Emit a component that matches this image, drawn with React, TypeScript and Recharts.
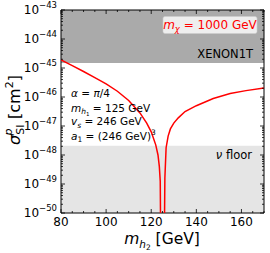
import React from "react";
import { LineChart, Line, XAxis, YAxis, ReferenceArea } from "recharts";

// m_h2 [GeV] and sigma_SI^p [cm^2] (resonance dip at m_h2 ~ 125 GeV)
const massH2 = [
  80, 85, 90, 95, 100, 105, 110, 115, 118, 120, 122, 123, 123.6, 124.0, 124.2,
  125.8, 126.05, 126.6, 127.5, 128.5, 130, 132, 135, 140, 147.5, 155, 162, 170,
];
const sigmaSI = [
  1.905e-45, 1.2e-45, 7.59e-46, 4.68e-46, 2.82e-46, 1.58e-46, 7.59e-47, 2.82e-47,
  1.26e-47, 6.31e-48, 2.24e-48, 1.0e-48, 3.98e-49, 1.26e-49, 1e-51,
  1e-51, 1.58e-49, 1.78e-48, 4.47e-48, 7.94e-48, 1.26e-47, 1.91e-47, 3.16e-47,
  5.01e-47, 8.91e-47, 1.32e-46, 1.66e-46, 2.04e-46,
];

const xTicksMajor = [80, 100, 120, 140, 160];
const xTicksMinor = [85, 90, 95, 105, 110, 115, 125, 130, 135, 145, 150, 155, 165, 170];
const yTicksMajor = [1e-50, 1e-49, 1e-48, 1e-47, 1e-46, 1e-45, 1e-44, 1e-43];
const yExponents = [-50, -49, -48, -47, -46, -45, -44, -43];

const xenonLimit = 1.48e-45;
const neutrinoFloor = 2.1e-48;

const data = massH2.map((m, i) => ({ m, sigma: sigmaSI[i] }));

const yTicksAll = yTicksMajor.flatMap((t, i) =>
  i < yTicksMajor.length - 1 ? [t, 2 * t, 3 * t, 4 * t, 5 * t, 6 * t, 7 * t, 8 * t, 9 * t] : [t]
);

const W = 270;
const H = 253;
const LEFT = 61;
const TOP = 10;
const RIGHT = 6;
const BOTTOM = 40;
const PLOT_W = W - LEFT - RIGHT;
const PLOT_H = H - TOP - BOTTOM;
const FONT = "DejaVu Sans";

const YTick = (props: any) => {
  const { x, y, payload } = props;
  const idx = yTicksMajor.indexOf(payload.value);
  const major = idx >= 0;
  const len = major ? 4 : 2;
  return (
    <g>
      <line x1={x} x2={x + len} y1={y} y2={y} stroke="#000" strokeWidth={0.8} />
      <line x1={x + PLOT_W} x2={x + PLOT_W - len} y1={y} y2={y} stroke="#000" strokeWidth={0.8} />
      {major && (
        <text x={x - 4} y={y + 4} textAnchor="end" fontSize={12} fontFamily={FONT} fill="#000">
          10
          <tspan dy={-6} fontSize={8.5}>
            {"\u2212" + Math.abs(yExponents[idx])}
          </tspan>
        </text>
      )}
    </g>
  );
};

const XTick = (props: any) => {
  const { x, y, payload } = props;
  const major = xTicksMajor.includes(payload.value);
  const len = major ? 4 : 2;
  return (
    <g>
      <line x1={x} x2={x} y1={y} y2={y - len} stroke="#000" strokeWidth={0.8} />
      <line x1={x} x2={x} y1={y - PLOT_H} y2={y - PLOT_H + len} stroke="#000" strokeWidth={0.8} />
      {major && (
        <text x={x} y={y + 12.5} textAnchor="middle" fontSize={12} fontFamily={FONT} fill="#000">
          {payload.value}
        </text>
      )}
    </g>
  );
};

export default function App() {
  return (
    <div style={{ position: "absolute", left: 0, top: 0, width: W, height: H, background: "#fff" }}>
      <LineChart
        width={W}
        height={H}
        data={data}
        margin={{ top: TOP, right: RIGHT, bottom: 0, left: 0 }}
      >
        <ReferenceArea x1={80} x2={170} y1={xenonLimit} y2={1e-43} fill="#aaaaaa" fillOpacity={1} stroke="none" />
        <ReferenceArea x1={80} x2={170} y1={1e-50} y2={neutrinoFloor} fill="#e5e5e5" fillOpacity={1} stroke="none" />
        <Line
          type="linear"
          dataKey="sigma"
          stroke="#ff0000"
          strokeWidth={1.5}
          dot={false}
          activeDot={false}
          isAnimationActive={false}
        />
        <ReferenceArea x1={80} x2={170} y1={1e-50} y2={1e-43} fill="none" stroke="#000" strokeWidth={1} />
        <XAxis
          dataKey="m"
          type="number"
          domain={[80, 170]}
          ticks={[...xTicksMajor, ...xTicksMinor]}
          interval={0}
          height={BOTTOM}
          tickSize={0}
          tickMargin={0}
          tickLine={false}
          axisLine={false}
          tick={XTick}
          allowDataOverflow
        />
        <YAxis
          type="number"
          scale="log"
          domain={[1e-50, 1e-43]}
          ticks={yTicksAll}
          interval={0}
          width={LEFT}
          tickSize={0}
          tickMargin={0}
          tickLine={false}
          axisLine={false}
          tick={YTick}
          allowDataOverflow
        />
      </LineChart>
      <svg
        width={W}
        height={H}
        style={{ position: "absolute", left: 0, top: 0, pointerEvents: "none" }}
        fontFamily={FONT}
      >
        {/* legend box */}
        <rect x={163} y={16.5} width={94} height={17} rx={2} fill="#ffffff" fillOpacity={0.8} stroke="#cccccc" strokeWidth={0.6} />
        <text x={210} y={29} textAnchor="middle" fontSize={12} fill="#ff0000">
          <tspan fontStyle="italic">m</tspan>
          <tspan fontStyle="italic" fontSize={8.5} dy={2.5}>χ</tspan>
          <tspan dy={-2.5}> = 1000 GeV</tspan>
        </text>
        <text x={253} y={58} textAnchor="end" fontSize={11.5} fill="#000">XENON1T</text>
        <text x={252} y={159} textAnchor="end" fontSize={11.5} fill="#000">
          <tspan fontStyle="italic">ν</tspan> floor
        </text>
        {/* parameter annotations */}
        <g fontSize={10.5} fill="#000">
          <text x={71} y={97}>
            <tspan fontStyle="italic">α</tspan> = <tspan fontStyle="italic">π</tspan>/4
          </text>
          <text x={71} y={111.5}>
            <tspan fontStyle="italic">m</tspan>
            <tspan fontStyle="italic" fontSize={7.5} dy={2.5}>h</tspan>
            <tspan fontSize={5.5} dy={1.5}>1</tspan>
            <tspan dy={-4}> = 125 GeV</tspan>
          </text>
          <text x={71} y={125}>
            <tspan fontStyle="italic">v</tspan>
            <tspan fontStyle="italic" fontSize={7.5} dy={2.5}>s</tspan>
            <tspan dy={-2.5}> = 246 GeV</tspan>
          </text>
          <text x={71} y={139.5}>
            <tspan fontStyle="italic">a</tspan>
            <tspan fontSize={7.5} dy={2.5}>1</tspan>
            <tspan dy={-2.5}> = (246 GeV)</tspan>
            <tspan fontSize={7.5} dy={-4.5}>3</tspan>
          </text>
        </g>
        {/* axis titles */}
        <text x={162} y={244} textAnchor="middle" fontSize={15.5} fill="#000">
          <tspan fontStyle="italic">m</tspan>
          <tspan fontStyle="italic" fontSize={10.5} dy={3.5}>h</tspan>
          <tspan fontSize={7.5} dy={2}>2</tspan>
          <tspan dy={-5.5}> [GeV]</tspan>
        </text>
        <text transform="translate(19.5,110) rotate(-90)" textAnchor="middle" fontSize={16} fill="#000">
          <tspan fontStyle="italic">σ</tspan>
          <tspan fontSize={11} dy={4}>SI</tspan>
          <tspan fontSize={11} fontStyle="italic" dx={-11} dy={-12}>p</tspan>
          <tspan dx={4.5} dy={8}> [cm</tspan>
          <tspan fontSize={11} dy={-7}>2</tspan>
          <tspan dy={7}>]</tspan>
        </text>
      </svg>
    </div>
  );
}
